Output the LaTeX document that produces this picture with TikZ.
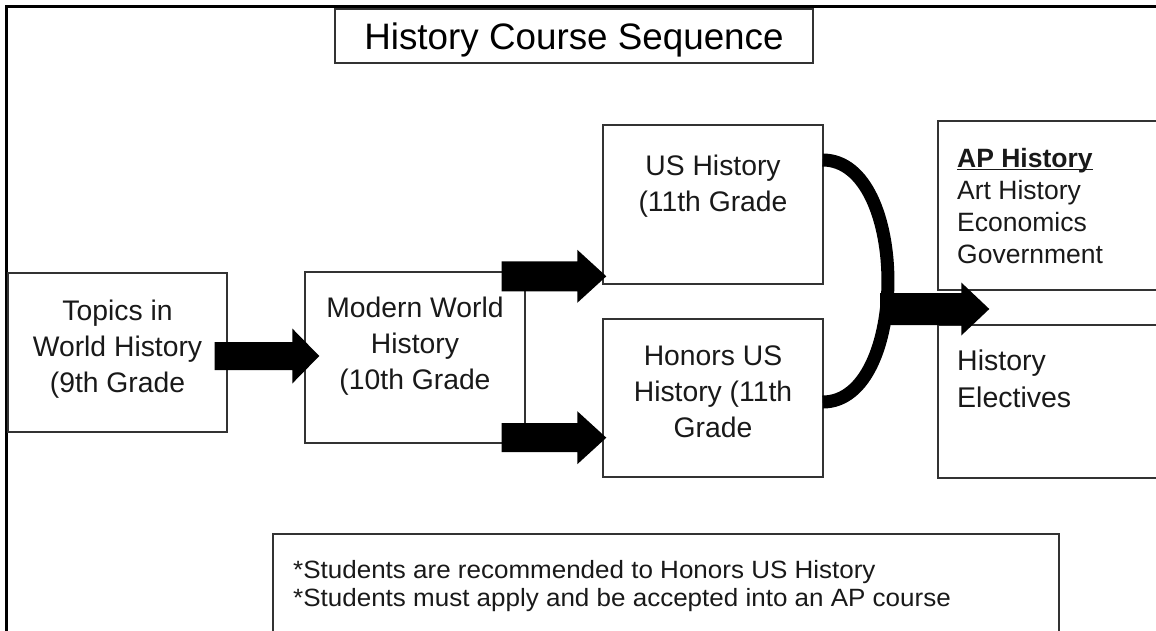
\documentclass[tikz,border=0pt]{standalone}
\usepackage{fontspec}
\setmainfont{Liberation Sans}
\newfontfamily\notefont[FakeStretch=1.04]{Liberation Sans}
\usetikzlibrary{calc}

% underline sitting just below the baseline
\newcommand\apline[1]{\setbox0\hbox{#1}\rlap{\rule[-3pt]{\wd0}{1.8pt}}\box0}

\begin{document}
\begin{tikzpicture}[x=1pt,y=-1pt,
  box/.style={draw=black!80, line width=1.4pt, inner sep=0pt},
  lbl/.style={inner sep=0pt, align=center, anchor=north, text=black!90,
    font=\fontsize{28.3}{36}\selectfont},
  list/.style={inner sep=0pt, align=left, anchor=north west, text=black!90},
  fat/.style n args={3}{fill=black, to path={
      let \p1=(\tikztostart), \p2=(\tikztotarget) in
      (\x1,\y1+#1) -- (\x2-#3,\y1+#1) -- (\x2-#3,\y1+#2) -- (\x2,\y1)
      -- (\x2-#3,\y1-#2) -- (\x2-#3,\y1-#1) -- (\x1,\y1-#1) -- cycle}}
]
\useasboundingbox (0,0) rectangle (1156,630);

% page frame (top and left edges)
\draw[line width=3pt] (6,640) -- (6,6) -- (1170,6);

% title
\node[box, minimum width=478pt, minimum height=54pt,
  font=\fontsize{36.8}{40}\selectfont, text height=26.5pt, text depth=0pt]
  (title) at (574,36) {History Course Sequence};

% course boxes
\node[box, minimum width=219pt, minimum height=159pt] (topics) at (117.5,352.5) {};
\node[box, minimum width=220pt, minimum height=171pt] (modern) at (415,357.5) {};
\node[box, minimum width=220pt, minimum height=159pt] (us) at (713,204.5) {};
\node[box, minimum width=220pt, minimum height=158pt] (honors) at (713,398) {};
\node[box, minimum width=232pt, minimum height=169pt] (ap) at (1054,205.5) {};
\node[box, minimum width=232pt, minimum height=153pt] (elect) at (1054,401.5) {};
\node[box, minimum width=786pt, minimum height=106pt] (note) at (666,587) {};

% box texts
\node[lbl] (topicsT) at (117.5,299.5) {Topics in\\World History\\(9th Grade};
\node[lbl] (modernT) at (415,296.5) {Modern World\\History\\(10th Grade};
\node[lbl] (usT) at (713,154.5) {US History\\(11th Grade};
\node[lbl] (honorsT) at (713,345.5) {Honors US\\History (11th\\Grade};
\node[list, font=\fontsize{26.5}{32}\selectfont] (apT) at (957,148)
  {\apline{\bfseries AP History}\\Art History\\Economics\\Government};
\node[list, font=\fontsize{28.5}{37}\selectfont] (electT) at (957,350)
  {History\\Electives};
\node[list, font=\notefont\fontsize{25}{28}\selectfont] (noteT) at (293,560)
  {*Students are recommended to Honors US History\\*Students must apply and be accepted into an AP course};

% block arrows
\path[fat={14pt}{27.5pt}{27pt}] ([xshift=-13pt,yshift=-3.5pt]topics.east)
  to ([xshift=15pt]modern.west);
\path[fat={15pt}{26.5pt}{29pt}] ([xshift=-24pt,yshift=-5pt]modern.north east)
  to ([xshift=4pt]us.west);
\path[fat={14.5pt}{26.5pt}{29pt}] ([xshift=-24pt,yshift=6pt]modern.south east)
  to ([xshift=4pt]honors.west);

% bracket joining the two 11th grade courses
\coordinate (c1) at ([xshift=-1pt,yshift=44.5pt]us.east);
\coordinate (c2) at ([xshift=-1pt,yshift=-4pt]honors.east);
\draw[line width=13pt] (c1) .. controls +(87,0) and +(87,0) .. (c2);

% arrow into the senior options
\coordinate (join) at (880,309);
\path[fat={16pt}{26.5pt}{28pt}] (join) to ([xshift=52pt,yshift=-19pt]ap.south west);
\end{tikzpicture}
\end{document}
